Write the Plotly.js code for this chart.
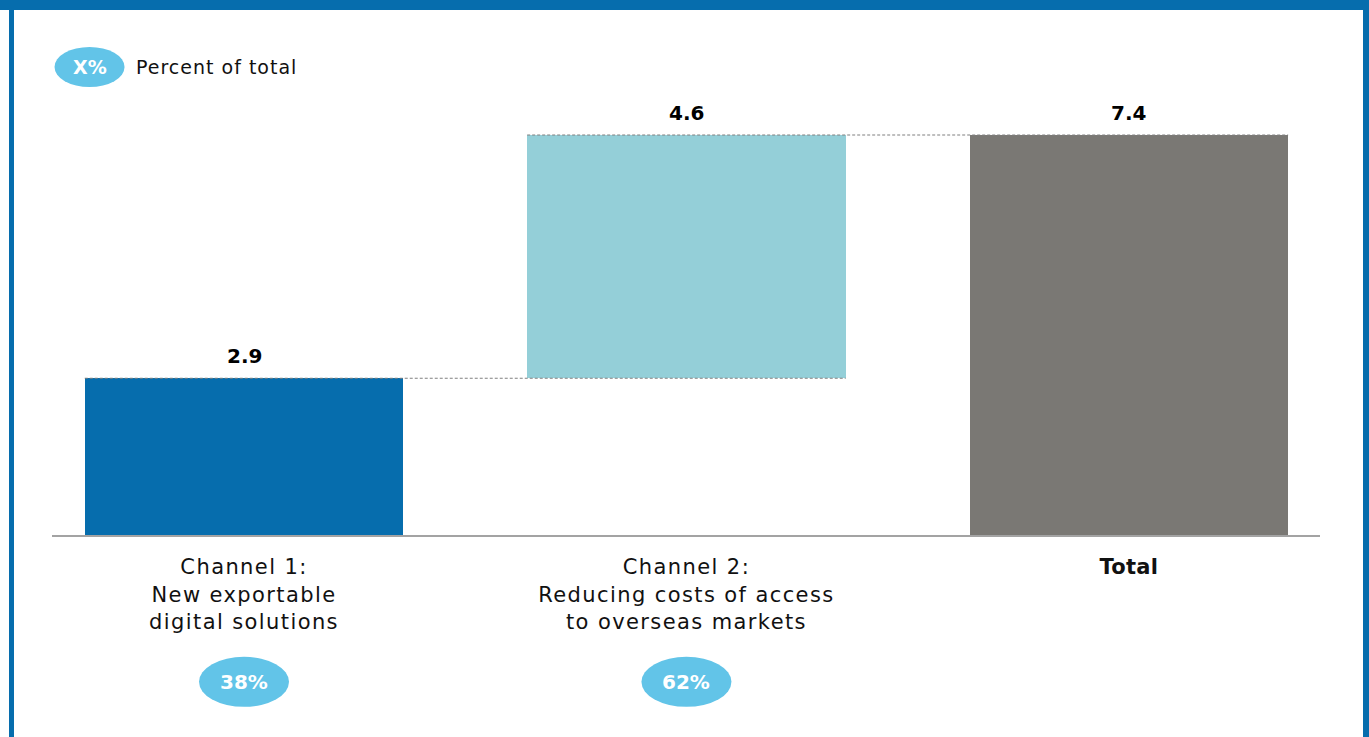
<!DOCTYPE html>
<html>
<head>
<meta charset="utf-8">
<script src="https://cdn.plot.ly/plotly-3.0.1.min.js"></script>
<style>
  html, body { margin: 0; padding: 0; background: #ffffff; }
  #wrap { position: relative; width: 1369px; height: 737px; overflow: hidden; }
  #chart { position: absolute; left: 0; top: 0; width: 1369px; height: 737px; }
  .frame { position: absolute; background: #066DAD; }
  #chart .xtick text { letter-spacing: 1.4px; }
  #chart .xtick:last-child text { letter-spacing: 0.3px; }
</style>
</head>
<body>
<div id="wrap">
  <div id="chart"></div>
  <div class="frame" style="left:0;top:0;width:1369px;height:10px;"></div>
  <div class="frame" style="left:9px;top:0;width:5px;height:737px;"></div>
  <div class="frame" style="left:1363px;top:0;width:6px;height:737px;"></div>
</div>
<script>
// ---- data ----
const categories = ["Channel 1:<br>New exportable<br>digital solutions",
                    "Channel 2:<br>Reducing costs of access<br>to overseas markets",
                    "<b>Total</b>"];
const values = [2.9, 4.6, 7.4];          // labelled values
const shares = ["38%", "62%"];           // percent of total per channel
const legendLabel = "Percent of total";
const barColors = ["#066DAD", "#94CFD8", "#7A7874"];

const FONT = "DejaVu Sans";

// ---- geometry derived from data ----
const total = values[2];
const bases = [0, values[0], 0];
const tops  = [values[0], total, total];
const heights = tops.map((t, i) => t - bases[i]);
const xs = categories.map((_, i) => i);
const barW = 0.72;

const traces = [{
  type: "bar",
  x: xs,
  y: heights,
  base: bases,
  width: barW,
  marker: { color: barColors, line: { width: 0 } },
  hoverinfo: "skip"
}];

// dashed connectors: from left edge of bar i to right edge of bar i+1 at bar i's top
for (let i = 0; i < xs.length - 1; i++) {
  traces.push({
    type: "scatter", mode: "lines",
    x: [xs[i] - barW / 2, xs[i + 1] + barW / 2],
    y: [tops[i], tops[i]],
    line: { color: "#808080", width: 1.2, dash: "3px,2px" },
    hoverinfo: "skip"
  });
}

const annotations = values.map((v, i) => ({
  x: xs[i], y: tops[i], xref: "x", yref: "y",
  text: "<b>" + v.toFixed(1) + "</b>",
  showarrow: false, yanchor: "bottom", yshift: 8,
  font: { family: FONT, size: 20, color: "#000000" }
}));

const shapes = [];
// percent bubbles under channels
shares.forEach((s, i) => {
  shapes.push({
    type: "circle", xref: "x", yref: "paper",
    xsizemode: "pixel", ysizemode: "pixel",
    xanchor: xs[i], yanchor: -0.330,
    x0: -45, x1: 45, y0: -25, y1: 25,
    fillcolor: "#62C4E8", line: { width: 0 }, layer: "above"
  });
  annotations.push({
    x: xs[i], y: -0.330, xref: "x", yref: "paper",
    text: "<b>" + s + "</b>", showarrow: false,
    xanchor: "center", yanchor: "middle",
    font: { family: FONT, size: 20, color: "#ffffff" }
  });
});
// legend bubble
shapes.push({
  type: "circle", xref: "paper", yref: "paper",
  xsizemode: "pixel", ysizemode: "pixel",
  xanchor: 0.0296, yanchor: 1.0517,
  x0: -35, x1: 35, y0: -20, y1: 20,
  fillcolor: "#62C4E8", line: { width: 0 }, layer: "above"
});
annotations.push({
  x: 0.0296, y: 1.0517, xref: "paper", yref: "paper",
  text: "<b>X%</b>", showarrow: false, xanchor: "center", yanchor: "middle",
  font: { family: FONT, size: 19, color: "#ffffff" }
});
annotations.push({
  x: 0.0645, y: 1.0517, xref: "paper", yref: "paper",
  text: "<span style=\"letter-spacing:1px\">" + legendLabel + "</span>",
  showarrow: false, xanchor: "left", yanchor: "middle",
  font: { family: FONT, size: 19, color: "#111111" }
});

const layout = {
  width: 1369, height: 737,
  margin: { l: 52, r: 49, t: 90, b: 202 },
  paper_bgcolor: "#ffffff", plot_bgcolor: "#ffffff",
  showlegend: false,
  bargap: 0,
  xaxis: {
    range: [-0.434, 2.432],
    tickvals: xs, ticktext: categories,
    showgrid: false, zeroline: false,
    showline: true, linecolor: "#a3a3a3", linewidth: 2,
    ticks: "", ticklabelstandoff: 12,
    tickfont: { family: FONT, size: 21, color: "#111111" },
    fixedrange: true
  },
  yaxis: {
    range: [0, 8.233],
    visible: false, showgrid: false, zeroline: false, fixedrange: true
  },
  shapes: shapes,
  annotations: annotations,
  font: { family: FONT }
};

Plotly.newPlot("chart", traces, layout, { displayModeBar: false, staticPlot: true });
</script>
</body>
</html>
